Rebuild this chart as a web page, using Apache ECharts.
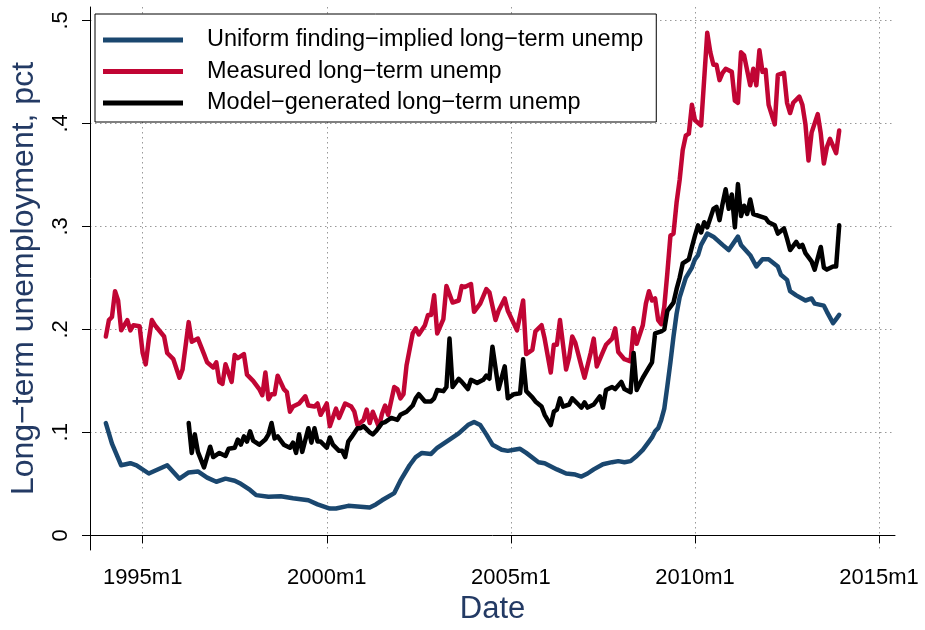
<!DOCTYPE html>
<html>
<head>
<meta charset="utf-8">
<script src="https://cdn.jsdelivr.net/npm/echarts@6/dist/echarts.min.js"></script>
<style>
  html, body { margin: 0; padding: 0; background: #fff; }
  #chart { width: 925px; height: 630px; }
</style>
</head>
<body>
<div id="chart"></div>
<script>
// months are counted from 1994m1, values in percent-as-fraction
const firstYear = 1994;
const xTicks = [1995, 2000, 2005, 2010, 2015];
const yTicks = [0, 0.1, 0.2, 0.3, 0.4, 0.5];
const seriesNames = [
  "Uniform finding\u2212implied long\u2212term unemp",
  "Measured long\u2212term unemp",
  "Model\u2212generated long\u2212term unemp"
];

const uniform = [
  [0, .109], [2, .089], [5, .068], [8, .070], [10, .068], [14, .060], [20, .068], [24, .055],
  [27, .061], [30, .062], [33, .056], [36, .052], [39, .055], [42, .053], [44, .050], [47, .044],
  [49, .039], [53, .0375], [57, .038], [61, .036], [66, .034], [69, .030], [73, .026], [75, .026],
  [79, .0286], [82, .028], [86, .027], [88, .030], [90, .034], [94, .041], [96, .053], [99, .068],
  [101, .076], [103, .080], [106, .079], [108, .085], [112, .093], [115, .099], [118, .107], [120, .110],
  [122, .107], [124, .098], [126, .088], [129, .083], [131, .082], [133, .083], [135, .084], [137, .080],
  [141, .071], [143, .070], [147, .064], [150, .060], [153, .059], [155, .057], [157, .060], [159, .064],
  [162, .069], [165, .071], [167, .072], [169, .071], [171, .072], [173, .077], [175, .083], [177, .091],
  [178, .095], [179, .101], [180, .104], [181, .112], [182, .123], [183, .145], [184, .168], [185, .193],
  [186, .215], [187, .231], [189, .250], [191, .260], [192, .268], [193, .272], [194, .282], [196, .293],
  [198, .290], [201, .282], [203, .277], [206, .290], [207, .282], [210, .272], [212, .261], [214, .268],
  [216, .268], [219, .261], [220, .253], [222, .248], [223, .237], [225, .233], [228, .228], [230, .230],
  [231, .225], [234, .223], [235, .217], [237, .206], [238, .210], [239, .214]
];

const measured = [
  [0, .193], [1, .209], [2, .212], [3, .237], [4, .228], [5, .199], [7, .209], [8, .199],
  [9, .204], [11, .203], [12, .177], [13, .166], [14, .190], [15, .209], [16, .204], [19, .193],
  [20, .177], [22, .171], [24, .153], [25, .161], [27, .207], [28, .188], [30, .191], [32, .176],
  [33, .168], [35, .163], [36, .168], [37, .149], [38, .147], [39, .166], [41, .149], [42, .175],
  [43, .172], [45, .176], [46, .156], [48, .150], [50, .142], [51, .136], [52, .158], [53, .132],
  [54, .137], [55, .137], [56, .155], [58, .142], [59, .139], [60, .120], [61, .125], [63, .128],
  [65, .135], [66, .126], [68, .125], [69, .128], [70, .117], [72, .128], [73, .106], [75, .123],
  [76, .114], [78, .128], [80, .125], [81, .120], [82, .107], [84, .112], [85, .122], [86, .109],
  [87, .120], [89, .105], [90, .118], [91, .126], [92, .117], [94, .144], [95, .142], [96, .133],
  [97, .137], [98, .165], [100, .196], [101, .201], [102, .195], [104, .204], [105, .214], [106, .214],
  [107, .233], [108, .196], [110, .210], [111, .242], [113, .226], [115, .228], [116, .242], [117, .241],
  [119, .244], [120, .217], [122, .225], [124, .239], [125, .236], [127, .209], [128, .218], [130, .230],
  [131, .218], [134, .199], [136, .228], [137, .176], [139, .180], [140, .198], [142, .204], [143, .191],
  [145, .158], [146, .185], [147, .185], [148, .209], [150, .161], [151, .173], [152, .193], [153, .187],
  [155, .164], [156, .153], [158, .177], [159, .191], [160, .164], [162, .178], [163, .185], [165, .191],
  [166, .201], [167, .178], [169, .171], [171, .169], [172, .201], [173, .186], [175, .204], [176, .225],
  [177, .237], [178, .228], [179, .230], [180, .209], [181, .205], [182, .222], [183, .255], [184, .291],
  [185, .293], [186, .323], [187, .345], [188, .374], [189, .388], [190, .390], [191, .418], [192, .403],
  [194, .398], [196, .488], [197, .469], [198, .457], [199, .457], [200, .442], [201, .449], [202, .453],
  [204, .450], [205, .422], [206, .420], [207, .469], [208, .466], [210, .437], [211, .453], [212, .437],
  [213, .471], [214, .450], [215, .452], [216, .418], [218, .399], [219, .447], [221, .449], [222, .420],
  [223, .410], [224, .420], [226, .426], [227, .418], [228, .399], [229, .364], [230, .391], [232, .409],
  [233, .390], [234, .361], [235, .377], [236, .385], [238, .371], [239, .393]
];

const model = [
  [27, .109], [28, .080], [29, .098], [30, .081], [32, .066], [34, .086], [35, .076], [37, .080],
  [39, .077], [40, .084], [42, .085], [43, .093], [44, .088], [45, .096], [46, .091], [47, .101],
  [48, .092], [49, .090], [50, .088], [52, .093], [53, .098], [54, .109], [55, .094], [56, .096],
  [58, .088], [60, .085], [61, .090], [62, .080], [63, .098], [64, .081], [66, .104], [67, .090],
  [68, .104], [69, .091], [70, .091], [72, .085], [73, .095], [74, .088], [76, .082], [77, .082],
  [78, .076], [79, .091], [80, .095], [82, .104], [83, .104], [84, .106], [86, .100], [87, .098],
  [88, .101], [90, .109], [91, .110], [93, .114], [95, .112], [96, .117], [98, .120], [100, .126],
  [101, .133], [102, .137], [104, .130], [106, .130], [107, .133], [108, .141], [110, .140], [111, .144],
  [112, .191], [113, .144], [115, .152], [116, .149], [118, .142], [119, .151], [121, .148], [123, .151],
  [124, .155], [125, .152], [126, .183], [128, .142], [130, .164], [131, .133], [133, .137], [135, .138],
  [136, .171], [137, .140], [139, .134], [140, .130], [142, .125], [143, .117], [145, .107], [146, .120],
  [147, .122], [148, .133], [149, .125], [151, .127], [152, .133], [154, .127], [155, .124], [156, .129],
  [157, .124], [159, .127], [161, .135], [162, .124], [163, .141], [165, .144], [166, .142], [168, .149],
  [169, .142], [171, .139], [172, .177], [173, .141], [175, .153], [177, .163], [178, .168], [179, .196],
  [181, .198], [182, .200], [183, .218], [185, .226], [186, .239], [187, .250], [188, .264], [189, .266],
  [190, .268], [191, .280], [192, .291], [193, .301], [194, .294], [195, .304], [196, .299], [198, .317],
  [199, .319], [200, .306], [201, .322], [202, .336], [203, .317], [204, .331], [205, .299], [206, .341],
  [207, .310], [208, .320], [209, .312], [210, .326], [211, .312], [213, .310], [215, .308], [216, .304],
  [218, .301], [219, .293], [221, .298], [222, .288], [223, .277], [225, .285], [226, .280], [227, .282],
  [228, .274], [230, .266], [231, .258], [233, .280], [234, .260], [235, .258], [237, .261], [238, .261],
  [239, .301]
];

const colors = ["#1a476f", "#c10534", "#000000"];
const font = "'Liberation Sans', Arial, sans-serif";
const titleColor = "#233a64";

const toYear = pts => pts.map(p => [firstYear + p[0] / 12, p[1]]);

const chart = echarts.init(document.getElementById("chart"));

function lineSeries(name, data, color) {
  return {
    name: name,
    type: "line",
    data: toYear(data),
    showSymbol: false,
    symbol: "none",
    color: color,
    lineStyle: { color: color, width: 4.5, cap: "round", join: "round" },
    emphasis: { disabled: true }
  };
}

chart.setOption({
  animation: false,
  backgroundColor: "#fff",
  grid: { left: 85, right: 30, top: 7, bottom: 69, containLabel: false },
  legend: {
    orient: "vertical",
    left: 95,
    top: 14,
    padding: [13, 13, 6, 8],
    borderColor: "#000",
    borderWidth: 1,
    backgroundColor: "#fff",
    icon: "rect",
    itemWidth: 80,
    itemHeight: 5,
    itemGap: 5.5,
    selectedMode: false,
    textStyle: {
      fontFamily: font, fontSize: 23.5, color: "#000",
      lineHeight: 26, padding: [0, 0, 0, 19]
    },
    data: seriesNames
  },
  xAxis: {
    type: "value",
    min: 1993.57,
    max: 2015.432,
    name: "Date",
    nameLocation: "middle",
    nameGap: 44,
    nameTextStyle: { fontFamily: font, fontSize: 31, color: titleColor },
    axisLine: { show: true, lineStyle: { color: "#000", width: 1 } },
    axisTick: { show: true, length: 8, customValues: xTicks, lineStyle: { color: "#000" } },
    axisLabel: {
      customValues: xTicks,
      margin: 17,
      fontFamily: font, fontSize: 22, color: "#000",
      formatter: v => v + "m1"
    },
    splitLine: { show: true, lineStyle: { color: "#999", width: 1, type: [1.5, 3.5] } }
  },
  yAxis: {
    type: "value",
    min: -0.01428,
    max: 0.513,
    name: "Long\u2212term unemployment, pct",
    nameLocation: "middle",
    nameGap: 50,
    nameTextStyle: { fontFamily: font, fontSize: 32, color: titleColor },
    axisLine: { show: true, lineStyle: { color: "#000", width: 1 } },
    axisTick: { show: true, length: 8, customValues: yTicks, lineStyle: { color: "#000" } },
    axisLabel: {
      customValues: yTicks,
      rotate: 90,
      margin: 18,
      fontFamily: font, fontSize: 22, color: "#000",
      formatter: v => (v === 0 ? "0" : String(Math.round(v * 10) / 10).replace(/^0/, ""))
    },
    splitLine: { show: true, lineStyle: { color: "#999", width: 1, type: [1.5, 3.5] } }
  },
  series: [
    lineSeries(seriesNames[0], uniform, colors[0]),
    lineSeries(seriesNames[1], measured, colors[1]),
    lineSeries(seriesNames[2], model, colors[2])
  ]
});
</script>
</body>
</html>
